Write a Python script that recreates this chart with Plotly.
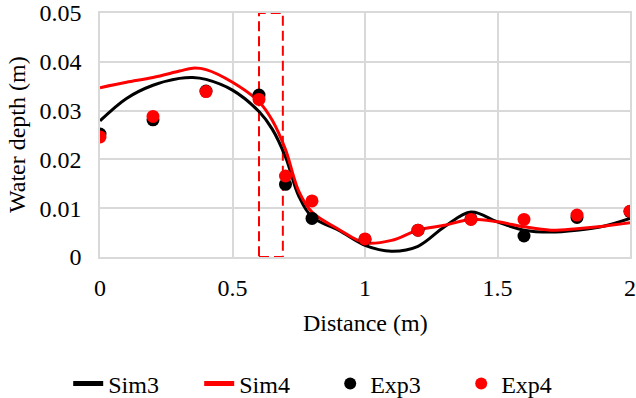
import plotly.graph_objects as go

# ---- data ----
sim_x = [0, 0.1, 0.2, 0.3, 0.35, 0.4, 0.5, 0.6, 0.65, 0.7, 0.75, 0.8, 0.9, 1.0,
         1.1, 1.2, 1.3, 1.4, 1.5, 1.6, 1.7, 1.8, 1.9, 2.0]
sim3_y = [0.0279, 0.0325, 0.0352, 0.0366, 0.0368, 0.0364, 0.0342, 0.0298, 0.0262,
          0.0205, 0.0125, 0.0082, 0.0055, 0.0024, 0.0012, 0.0022, 0.0062, 0.0092,
          0.0072, 0.0055, 0.0051, 0.0055, 0.0063, 0.0079]
sim4_y = [0.0347, 0.0358, 0.0368, 0.0381, 0.0387, 0.0384, 0.0358, 0.0318, 0.0280,
          0.0220, 0.0135, 0.0092, 0.0057, 0.0029, 0.0034, 0.0055, 0.0065, 0.0077,
          0.0072, 0.0062, 0.0055, 0.0058, 0.0063, 0.0070]

exp_x = [0, 0.2, 0.4, 0.6, 0.7, 0.8, 1.0, 1.2, 1.4, 1.6, 1.8, 2.0]
exp3_y = [0.0252, 0.0281, 0.0340, 0.0332, 0.0149, 0.0079, 0.0036, 0.0055, 0.0078,
          0.0043, 0.0081, 0.0093]
exp4_y = [0.0246, 0.0288, 0.0339, 0.0323, 0.0166, 0.0115, 0.0037, 0.0055, 0.0077,
          0.0077, 0.0086, 0.0094]

region_x = [0.6, 0.69]
region_y = [0, 0.05]

x_ticks = [0, 0.5, 1, 1.5, 2]
y_ticks = [0, 0.01, 0.02, 0.03, 0.04, 0.05]
y_tick_text = ["0", "0.01", "0.02", "0.03", "0.04", "0.05"]
x_tick_text = ["0", "0.5", "1", "1.5", "2"]

FONT = "'Liberation Serif', 'Times New Roman', Tinos, serif"
GRID = "#d9d9d9"

fig = go.Figure()
fig.add_trace(go.Scatter(x=sim_x, y=sim3_y, mode="lines", name="Sim3",
                         line=dict(color="black", width=3, shape="spline", smoothing=1)))
fig.add_trace(go.Scatter(x=sim_x, y=sim4_y, mode="lines", name="Sim4",
                         line=dict(color="#ff0000", width=3, shape="spline", smoothing=1)))
fig.add_trace(go.Scatter(x=exp_x, y=exp3_y, mode="markers", name="Exp3",
                         marker=dict(color="black", size=13)))
fig.add_trace(go.Scatter(x=exp_x, y=exp4_y, mode="markers", name="Exp4",
                         marker=dict(color="#ff0000", size=13)))

fig.add_shape(type="rect", x0=region_x[0], x1=region_x[1], y0=region_y[0], y1=region_y[1],
              xref="x", yref="y", line=dict(color="#ff0000", width=2, dash="10px,5px"),
              layer="between")

fig.update_layout(
    width=636, height=398,
    margin=dict(l=100, r=6, t=13, b=141, autoexpand=False),
    paper_bgcolor="white", plot_bgcolor="white",
    font=dict(family=FONT, size=24, color="black"),
    showlegend=True,
    legend=dict(orientation="h", xref="paper", yref="paper",
                x=-0.06, xanchor="left", y=-0.52, yanchor="middle",
                font=dict(family=FONT, size=24, color="black"),
                entrywidth=86, entrywidthmode="pixels",
                itemsizing="constant", tracegroupgap=0),
    xaxis=dict(range=[0, 2], tickvals=x_ticks, ticktext=x_tick_text,
               showgrid=True, gridcolor=GRID, gridwidth=1.5,
               showline=True, linecolor=GRID, linewidth=1.5, mirror=True,
               zeroline=False, ticks="", ticklabelstandoff=8, automargin=False,
               ticklabeloverflow="allow",
               tickfont=dict(family=FONT, size=24)),
    yaxis=dict(range=[0, 0.05], tickvals=y_ticks, ticktext=y_tick_text,
               showgrid=True, gridcolor=GRID, gridwidth=1.5,
               showline=True, linecolor=GRID, linewidth=1.5, mirror=True,
               zeroline=False, ticks="", ticklabelstandoff=12, automargin=False,
               ticklabeloverflow="allow",
               tickfont=dict(family=FONT, size=24)),
    annotations=[
        dict(text="Distance (m)", xref="paper", yref="paper", x=0.5, y=0,
             xanchor="center", yanchor="middle", yshift=-66, showarrow=False,
             font=dict(family=FONT, size=24)),
        dict(text="Water depth (m)", xref="paper", yref="paper", x=0, y=0.5,
             xanchor="center", yanchor="middle", xshift=-83, textangle=-90,
             showarrow=False, font=dict(family=FONT, size=24)),
    ],
)

fig.write_html("out.html", config={"displayModeBar": False},
               post_script="document.body.style.margin='0';document.body.style.padding='0';")
